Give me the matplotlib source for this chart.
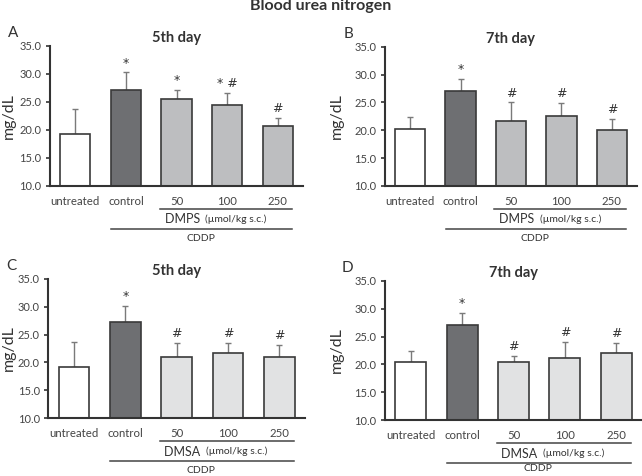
import numpy as np
import matplotlib
matplotlib.use("Agg")
import matplotlib.pyplot as plt

plt.rcParams['font.family'] = ['Lato', 'DejaVu Sans']

groups = ["untreated", "control", "50", "100", "250"]

# mean values (mg/dL) and upper error for each panel
a_mean = [19.2, 27.2, 25.5, 24.4, 20.7]
a_err = [4.6, 3.1, 1.7, 2.2, 1.5]
a_marks = ["", "*", "*", "* #", "#"]

b_mean = [20.2, 27.0, 21.6, 22.6, 20.1]
b_err = [2.1, 2.2, 3.4, 2.3, 1.9]
b_marks = ["", "*", "#", "#", "#"]

c_mean = [19.2, 27.2, 20.9, 21.75, 20.9]
c_err = [4.5, 3.0, 2.6, 1.75, 2.3]
c_marks = ["", "*", "#", "#", "#"]

d_mean = [20.4, 27.1, 20.4, 21.2, 22.0]
d_err = [2.0, 2.2, 1.1, 2.8, 1.9]
d_marks = ["", "*", "#", "#", "#"]

W, H = 642, 476
fig = plt.figure(figsize=(W / 100, H / 100), dpi=100)


def px_axes(left, right, top, bottom):
    return fig.add_axes([left / W, 1 - bottom / H, (right - left) / W, (bottom - top) / H])


def panel(ax, means, errs, marks, drug_color, drug, letter, day, ylab_x, cddp_y=-0.375):
    x = np.arange(len(groups))
    colors = ["white", "#6e6f72", drug_color, drug_color, drug_color]
    ax.bar(x, np.array(means) - 10, bottom=10, width=0.6, color=colors,
           edgecolor="#3a3a3a", linewidth=1.2, zorder=2)
    ax.errorbar(x, means, yerr=[np.zeros(len(errs)), errs], fmt="none",
                ecolor="#7a7a7a", elinewidth=1, capsize=2.5, capthick=1, zorder=1)
    for xi, m, e, s in zip(x, means, errs, marks):
        if s:
            ax.annotate(s, (xi, m + e), xytext=(0, 2), textcoords="offset points",
                        ha="center", va="bottom", fontsize=9, color="#333333",
                        family="DejaVu Sans")

    ax.set_xlim(-0.5, 4.5)
    ax.set_ylim(10, 35)
    ax.set_yticks(np.arange(10, 36, 5))
    ax.set_yticklabels([f"{v:.1f}" for v in np.arange(10, 36, 5)], fontsize=8, color="#444444")
    ax.set_xticks(x)
    ax.set_xticklabels(groups, fontsize=8.2, color="#444444")
    ax.tick_params(axis="x", length=0, pad=7)
    ax.tick_params(axis="y", direction="out", length=3, width=1.2, color="#333333", pad=3)
    for s in ["top", "right"]:
        ax.spines[s].set_visible(False)
    for s in ["left", "bottom"]:
        ax.spines[s].set_color("#333333")
        ax.spines[s].set_linewidth(1.5)
    ax.set_ylabel("mg/dL", fontsize=11.5, color="#333333")
    ax.yaxis.set_label_coords(ylab_x, 0.5)
    ax.set_title(day, fontsize=10.5, fontweight="bold", color="#333333", pad=3)
    ax.text(-0.145, 1.09, letter, transform=ax.transAxes, fontsize=11,
            color="#333333", ha="center", va="center")

    tr = ax.get_xaxis_transform()
    ax.plot([1.67, 4.29], [-0.164, -0.164], transform=tr, clip_on=False,
            color="#444444", linewidth=1.1)
    ax.plot([0.71, 4.29], [-0.309, -0.309], transform=tr, clip_on=False,
            color="#444444", linewidth=1.1)
    ax.text(2.53, -0.238, drug, transform=tr, ha="right", va="center",
            fontsize=9, color="#333333")
    ax.text(2.57, -0.238, "(µmol/kg s.c.)", transform=tr, ha="left", va="center",
            fontsize=7.5, color="#333333")
    ax.text(2.48, cddp_y, "CDDP", transform=tr, ha="center", va="center",
            fontsize=7.5, color="#333333")


ax_a = px_axes(50, 303, 46, 186)
ax_b = px_axes(385, 637, 46.7, 186)
ax_c = px_axes(48.3, 305, 278.7, 418.3)
ax_d = px_axes(385, 642, 280.7, 420.3)

panel(ax_a, a_mean, a_err, a_marks, "#bdbec0", "DMPS ", "A", "5th day", -0.135)
panel(ax_b, b_mean, b_err, b_marks, "#bdbec0", "DMPS ", "B", "7th day", -0.163)
panel(ax_c, c_mean, c_err, c_marks, "#e1e2e3", "DMSA ", "C", "5th day", -0.128)
panel(ax_d, d_mean, d_err, d_marks, "#e1e2e3", "DMSA ", "D", "7th day", -0.16, -0.345)

fig.text(0.5, 1 - 6 / H, "Blood urea nitrogen", ha="center", va="center",
         fontsize=11.5, fontweight="bold", color="#333333")

fig.savefig("out.png", dpi=100)
